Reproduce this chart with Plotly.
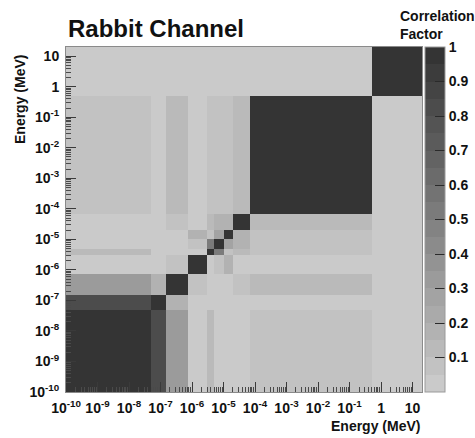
import math
import plotly.graph_objects as go

# ---------------- data ----------------
# energy group boundaries (MeV)
bin_edges_mev = [1e-10, 5e-8, 1.5e-7, 7.5e-7, 3e-6, 5e-6, 1e-5, 2e-5, 7e-5, 0.5, 20.0]

# correlation matrix, rows = y groups (low -> high energy), cols = x groups
corr_row1 = [1.00, 0.80, 0.30, 0.01, 0.10, 0.02, 0.02, 0.03, 0.09, 0.01]
corr_row2 = [0.80, 1.00, 0.17, 0.03, 0.03, 0.02, 0.02, 0.02, 0.02, 0.01]
corr_row3 = [0.30, 0.17, 1.00, 0.05, 0.04, 0.04, 0.04, 0.06, 0.10, 0.01]
corr_row4 = [0.01, 0.03, 0.05, 1.00, 0.01, 0.05, 0.17, 0.03, 0.01, 0.01]
corr_row5 = [0.10, 0.03, 0.04, 0.01, 1.00, 0.50, 0.05, 0.12, 0.06, 0.01]
corr_row6 = [0.02, 0.02, 0.04, 0.05, 0.50, 1.00, 0.27, 0.15, 0.05, 0.01]
corr_row7 = [0.02, 0.02, 0.04, 0.17, 0.05, 0.27, 1.00, 0.18, 0.05, 0.01]
corr_row8 = [0.03, 0.02, 0.06, 0.03, 0.12, 0.15, 0.18, 1.00, 0.14, 0.01]
corr_row9 = [0.09, 0.02, 0.10, 0.01, 0.06, 0.05, 0.05, 0.14, 1.00, 0.02]
corr_row10 = [0.01, 0.01, 0.01, 0.01, 0.01, 0.01, 0.01, 0.01, 0.02, 1.00]

tick_exponents = list(range(-10, 2))
tick_labels = ["10<sup>-10</sup>", "10<sup>-9</sup>", "10<sup>-8</sup>", "10<sup>-7</sup>",
               "10<sup>-6</sup>", "10<sup>-5</sup>", "10<sup>-4</sup>", "10<sup>-3</sup>",
               "10<sup>-2</sup>", "10<sup>-1</sup>", "1", "10"]
cbar_tickvals = [0.1, 0.2, 0.3, 0.4, 0.5, 0.6, 0.7, 0.8, 0.9, 1.0]
cbar_ticktext = ["0.1", "0.2", "0.3", "0.4", "0.5", "0.6", "0.7", "0.8", "0.9", "1"]

title_text = "Rabbit Channel"
axis_title = "Energy (MeV)"
cbar_title = "Correlation<br>Factor"

# ---------------- build ----------------
z = [corr_row1, corr_row2, corr_row3, corr_row4, corr_row5,
     corr_row6, corr_row7, corr_row8, corr_row9, corr_row10]
log_edges = [math.log10(e) for e in bin_edges_mev]
lo, hi = log_edges[0], log_edges[-1]

# stepped grey colour scale (20 levels)
nsteps = 20
g_light, g_dark = 202, 52
colorscale = []
for k in range(nsteps):
    g = round(g_light - k * (g_light - g_dark) / (nsteps - 1))
    c = f"rgb({g},{g},{g})"
    colorscale.append([k / nsteps, c])
    colorscale.append([(k + 1) / nsteps, c])

minor_vals = []
for n in range(-10, 2):
    for k in range(2, 10):
        v = math.log10(k) + n
        if v <= hi + 1e-9:
            minor_vals.append(v)

W, H = 475, 438
L, R, T, B = 66, 53, 47, 46
pw, ph = W - L - R, H - T - B

def px_x(x):
    return (x - L) / pw

def px_y(y):
    return (H - B - y) / ph

fig = go.Figure()
fig.add_trace(go.Heatmap(
    x=log_edges, y=log_edges, z=z,
    zmin=0, zmax=1, colorscale=colorscale,
    colorbar=dict(
        x=px_x(425), xanchor="left", y=0.5, yanchor="middle", len=1, lenmode="fraction",
        thickness=20, thicknessmode="pixels", xpad=0, ypad=0,
        outlinewidth=1, outlinecolor="#9a9a9a",
        tickmode="array", tickvals=cbar_tickvals, ticktext=cbar_ticktext,
        ticks="inside", ticklen=10, tickcolor="#2a2a2a", tickwidth=1,
        tickfont=dict(family="Liberation Sans", size=14, color="#111", weight="bold"),
    ),
    hoverinfo="skip",
))

axis_common = dict(
    range=[lo, hi], tickmode="array", tickvals=tick_exponents, ticktext=tick_labels,
    tickangle=0, ticklabelstandoff=3,
    ticks="inside", ticklen=10, tickwidth=1, tickcolor="#3a3a3a",
    minor=dict(tickvals=minor_vals, ticks="inside", ticklen=5, tickwidth=1, tickcolor="#4a4a4a"),
    showgrid=False, zeroline=False, layer="above traces",
    showline=True, linecolor="#8a8a8a", linewidth=1, mirror=True,
    tickfont=dict(family="Liberation Sans", size=14, color="#111", weight="bold"),
)

fig.update_layout(
    width=W, height=H,
    margin=dict(l=L, r=R, t=T, b=B, pad=0, autoexpand=False),
    paper_bgcolor="white", plot_bgcolor="white",
    xaxis=dict(**axis_common),
    yaxis=dict(**axis_common),
    title=dict(text=title_text, xref="container", yref="container",
               x=68 / W, xanchor="left", y=1 - 29 / H, yanchor="middle",
               font=dict(family="Liberation Sans", size=24, color="#111", weight="bold")),
    showlegend=False,
)

fig.add_annotation(text=axis_title, xref="paper", yref="paper",
                   x=px_x(422), xanchor="right", y=px_y(426), yanchor="middle",
                   showarrow=False,
                   font=dict(family="Liberation Sans", size=14, color="#111", weight="bold"))
fig.add_annotation(text=axis_title, xref="paper", yref="paper", textangle=-90,
                   x=px_x(20), xanchor="center", y=px_y(99), yanchor="middle",
                   showarrow=False,
                   font=dict(family="Liberation Sans", size=14, color="#111", weight="bold"))
fig.add_annotation(text=cbar_title, xref="paper", yref="paper",
                   x=px_x(398), xanchor="left", y=px_y(6), yanchor="top", align="left",
                   showarrow=False,
                   font=dict(family="Liberation Sans", size=14, color="#111", weight="bold"))

fig.write_html("out.html")
